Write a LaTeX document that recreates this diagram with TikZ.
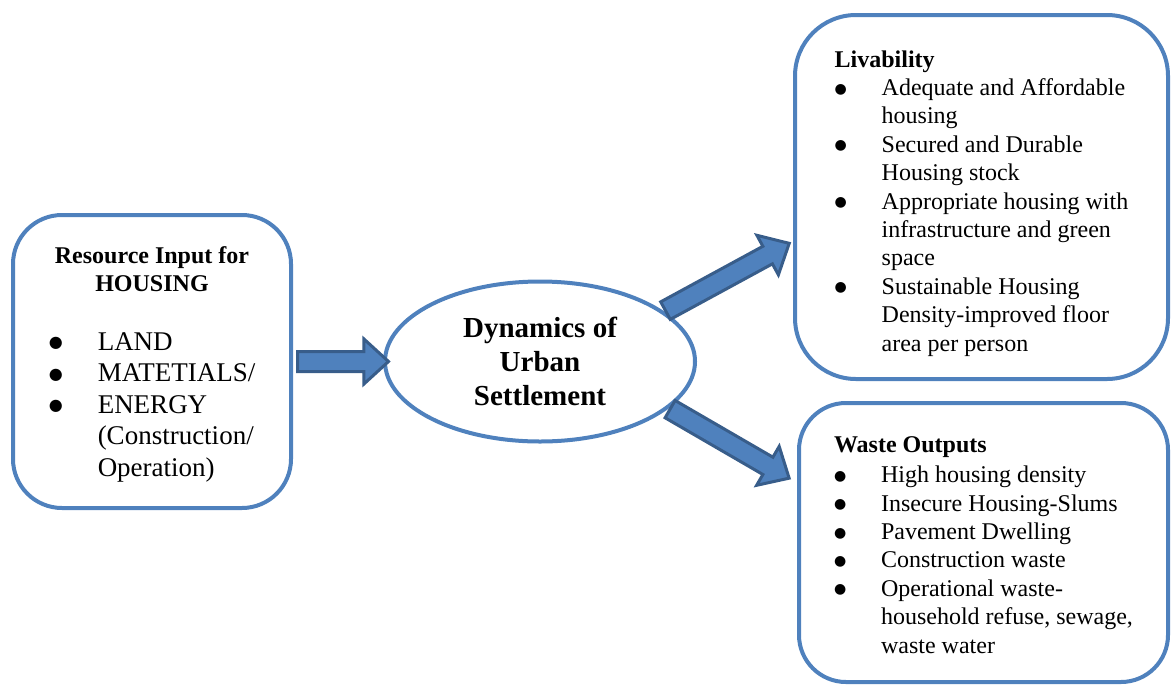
\documentclass[tikz,border=0pt]{standalone}
\usepackage{fontspec}
\setmainfont{Liberation Serif}
\newfontfamily\dotfont{DejaVu Sans}
\usetikzlibrary{positioning,calc,shapes.geometric,shapes.arrows}
\definecolor{boxblue}{HTML}{4F81BD}
\definecolor{arrowedge}{HTML}{385D8A}
\newcommand\bul[1][7]{\raisebox{1.2pt}{\dotfont\fontsize{#1}{#1}\selectfont ●}}

\begin{document}
\begin{tikzpicture}[
    x=0.5pt, y=-0.5pt,
    box/.style={draw=boxblue, line width=2pt, rectangle, rounded corners=#1, inner sep=0pt, align=center, font=\fontsize{12}{14.2}\selectfont},
    box/.default=24pt,
    hub/.style={draw=boxblue, line width=2pt, ellipse, inner sep=0pt, align=center, font=\fontsize{14.5}{17}\selectfont\bfseries},
    arr/.style={single arrow, draw=arrowedge, fill=boxblue, line width=1.5pt, inner sep=4.25pt, single arrow head extend=6.25pt, single arrow tip angle=85, anchor=tail}
]
    \useasboundingbox (0,0) rectangle (1172,686);

    % input box
    \node[box=24.5pt, minimum width=139pt, minimum height=146.5pt] (res) at (152,361.5) {%
        \raisebox{-1.5pt}[\height][\depth]{\begin{tabular}{@{}c@{}}
            \begin{tabular}{@{}c@{}}\textbf{Resource Input for}\\\textbf{HOUSING}\end{tabular}\\[21pt]
            {\fontsize{13.5}{15.75}\selectfont
            \begin{tabular}{@{}p{24.5pt}@{}l@{}}
                \bul[8] & LAND\\
                \bul[8] & MATETIALS/\\
                \bul[8] & ENERGY\\
                        & (Construction/\\
                        & Operation)
            \end{tabular}}
        \end{tabular}}};

    % centre ellipse
    \node[hub, minimum width=155pt, minimum height=80pt, right=45pt of res] (dyn) {Dynamics of\\Urban\\Settlement};

    % output boxes
    \node[box=30.5pt, minimum width=186.5pt, minimum height=182pt] (liv) at (981.5,197) {%
        \raisebox{-3.25pt}[\height][\depth]{\begin{tabular}{@{}p{23.5pt}@{}l@{}}
            \multicolumn{2}{@{}l@{}}{\textbf{Livability}}\\
            \bul & Adequate and Affordable\\
                 & housing\\
            \bul & Secured and Durable\\
                 & Housing stock\\
            \bul & Appropriate housing with\\
                 & infrastructure and green\\
                 & space\\
            \bul & Sustainable Housing\\
                 & Density-improved floor\\
                 & area per person
        \end{tabular}}};
    \node[box=23.5pt, minimum width=184.5pt, minimum height=139.5pt] (wst) at (983.5,542.5) {%
        \raisebox{-2.25pt}[\height][\depth]{\begin{tabular}{@{}p{23.5pt}@{}l@{}}
            \multicolumn{2}{@{}l@{}}{\textbf{Waste Outputs}}\\[1pt]
            \bul & High housing density\\
            \bul & Insecure Housing-Slums\\
            \bul & Pavement Dwelling\\
            \bul & Construction waste\\
            \bul & Operational waste-\\
                 & household refuse, sewage,\\
                 & waste water
        \end{tabular}}};

    % arrow ends
    \coordinate (t1) at ($(res.east)+(3,0)$);
    \coordinate (h1) at ($(dyn.west)+(4,0)$);
    \coordinate (t2) at (dyn.22);
    \coordinate (h2) at ($(liv.west)+(-5,47)$);
    \coordinate (t3) at (dyn.-20);
    \coordinate (h3) at ($(wst.west)+(-9,-65)$);

    % block arrows
    \path let \p1=($(h1)-(t1)$), \n1={veclen(\x1,\y1)}, \n2={atan2(\y1,\x1)} in
        node[arr, minimum height=\n1, rotate=\n2] (a1) at (t1) {};
    \path let \p1=($(h2)-(t2)$), \n1={veclen(\x1,\y1)}, \n2={atan2(\y1,\x1)} in
        node[arr, minimum height=\n1, rotate=\n2] (a2) at (t2) {};
    \path let \p1=($(h3)-(t3)$), \n1={veclen(\x1,\y1)}, \n2={atan2(\y1,\x1)} in
        node[arr, minimum height=\n1, rotate=\n2] (a3) at (t3) {};
\end{tikzpicture}
\end{document}
